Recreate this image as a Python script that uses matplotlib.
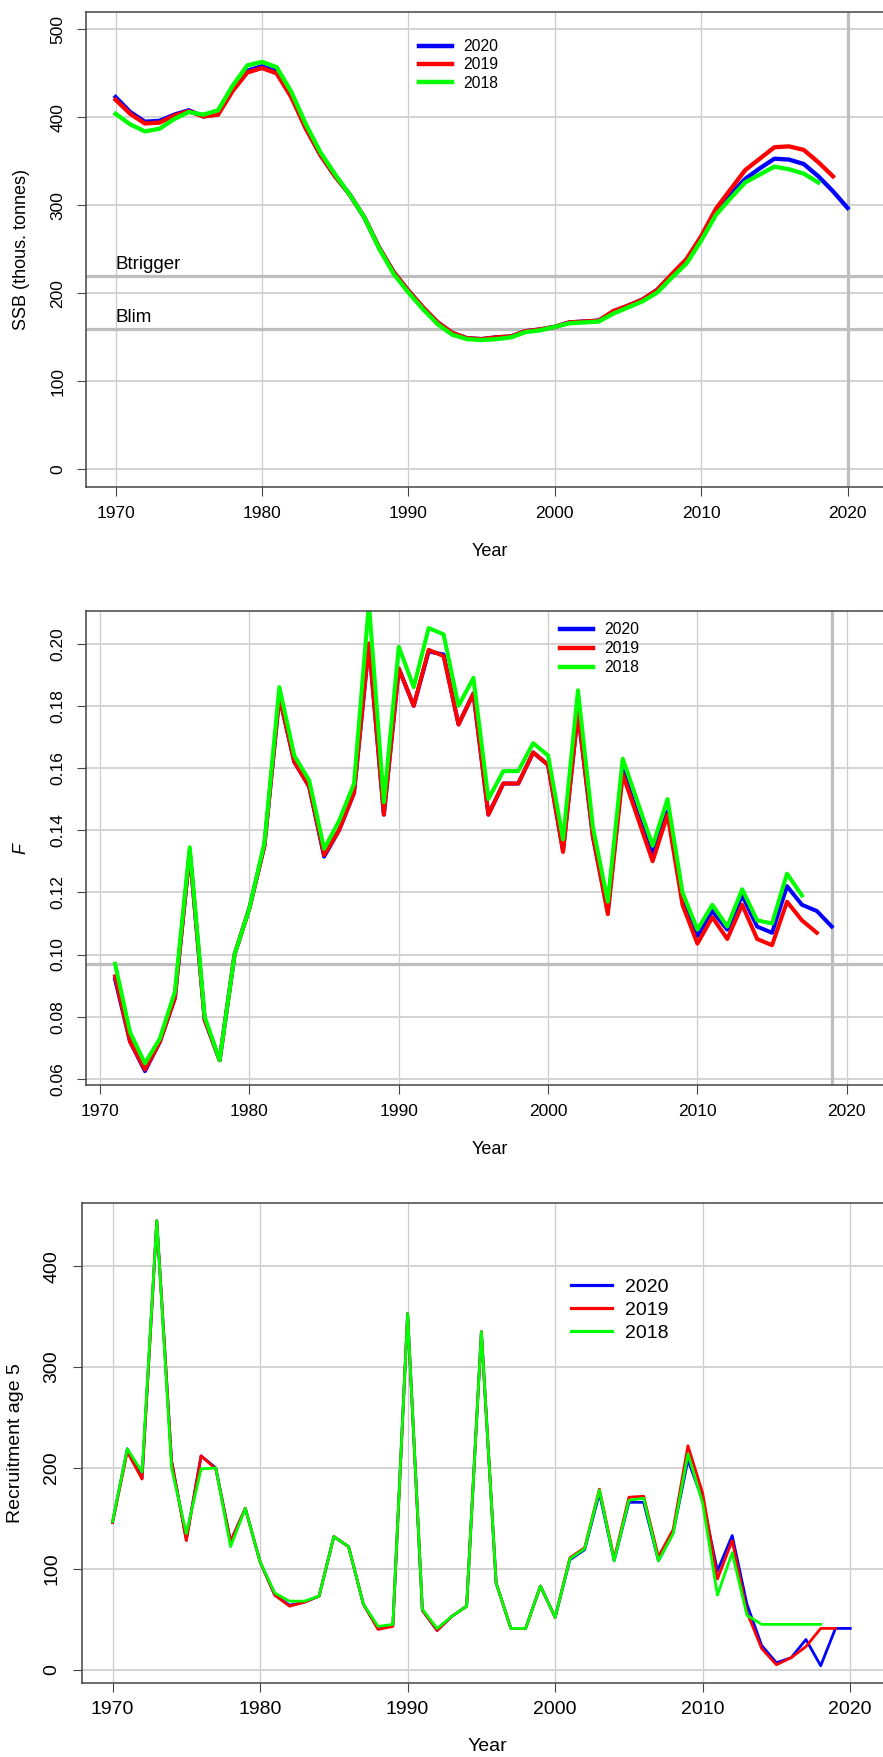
import numpy as np
import matplotlib
matplotlib.use("Agg")
import matplotlib.pyplot as plt
from matplotlib.ticker import FormatStrFormatter

plt.rcParams['font.family'] = ['Liberation Sans', 'DejaVu Sans']

# ---- SSB (thous. tonnes), by assessment year ----
ssb_years_2020 = np.arange(1970, 2021)
ssb_2020 = [423, 406, 395, 396, 403, 408, 401, 404, 432, 453,
            458, 452, 425, 388, 357, 333, 312, 286, 252, 224,
            203, 184, 167, 155, 149, 148, 150, 151, 157, 159,
            162, 167, 168, 169, 179, 186, 193, 204, 221, 238,
            264, 292, 312, 330, 342, 353, 352, 347, 333, 316,
            297]
ssb_years_2019 = np.arange(1970, 2020)
ssb_2019 = [420, 404, 393, 394, 402, 407, 401, 403, 430, 451,
            456, 450, 423, 387, 357, 333, 312, 286, 252, 224,
            203, 184, 167, 155, 149, 148, 150, 151, 157, 159,
            162, 167, 168, 169, 180, 186, 193, 204, 222, 239,
            265, 296, 318, 340, 353, 366, 367, 363, 349, 333]
ssb_years_2018 = np.arange(1970, 2019)
ssb_2018 = [404, 392, 384, 387, 398, 406, 403, 408, 436, 459,
            463, 457, 429, 392, 360, 335, 312, 286, 251, 222,
            201, 182, 165, 153, 148, 147, 148, 150, 156, 158,
            162, 166, 167, 168, 177, 184, 191, 201, 218, 234,
            260, 289, 308, 326, 335, 344, 341, 336, 326]
btrigger = 220
blim = 160

# ---- Fishing mortality ----
f_years_2020 = np.arange(1971, 2020)
f_2020 = [0.092, 0.072, 0.0625, 0.072, 0.086, 0.133, 0.079, 0.066, 0.100, 0.115,
          0.135, 0.183, 0.162, 0.154, 0.1315, 0.140, 0.152, 0.200, 0.145, 0.192,
          0.180, 0.1975, 0.1965, 0.174, 0.184, 0.145, 0.155, 0.155, 0.165, 0.161,
          0.1335, 0.178, 0.138, 0.114, 0.1595, 0.145, 0.1325, 0.146, 0.118, 0.106,
          0.114, 0.108, 0.119, 0.109, 0.107, 0.122, 0.116, 0.114, 0.109]
f_years_2019 = np.arange(1971, 2019)
f_2019 = [0.093, 0.072, 0.063, 0.072, 0.086, 0.133, 0.079, 0.066, 0.100, 0.115,
          0.135, 0.183, 0.162, 0.154, 0.132, 0.140, 0.152, 0.200, 0.145, 0.192,
          0.180, 0.198, 0.196, 0.174, 0.184, 0.145, 0.155, 0.155, 0.165, 0.161,
          0.133, 0.178, 0.138, 0.113, 0.158, 0.144, 0.130, 0.145, 0.116, 0.1035,
          0.112, 0.105, 0.116, 0.105, 0.103, 0.117, 0.111, 0.107]
f_years_2018 = np.arange(1971, 2018)
f_2018 = [0.097, 0.075, 0.065, 0.073, 0.088, 0.1345, 0.080, 0.066, 0.100, 0.115,
          0.136, 0.186, 0.164, 0.156, 0.134, 0.143, 0.155, 0.213, 0.149, 0.199,
          0.186, 0.205, 0.203, 0.180, 0.189, 0.150, 0.159, 0.159, 0.168, 0.164,
          0.137, 0.185, 0.141, 0.117, 0.163, 0.149, 0.135, 0.150, 0.120, 0.108,
          0.116, 0.109, 0.121, 0.111, 0.110, 0.126, 0.119]
f_ref = 0.097

# ---- Recruitment age 5 ----
rec_years_2020 = np.arange(1970, 2021)
rec_2020 = [146, 219, 190, 445, 207, 129, 212, 200, 127, 160,
            107, 74, 64, 67, 73, 132, 122, 65, 41, 44,
            353, 59, 39, 53, 63, 335, 86, 41, 41, 83,
            52, 109, 119, 175, 108, 166, 166, 108, 136, 208,
            168, 98, 133, 65, 24, 7, 12, 30, 4, 41,
            41]
rec_years_2019 = np.arange(1970, 2020)
rec_2019 = [146, 216, 189, 445, 207, 128, 212, 199, 127, 160,
            107, 74, 63, 67, 73, 132, 122, 65, 40, 43,
            353, 59, 39, 53, 63, 335, 86, 41, 41, 83,
            52, 111, 121, 179, 110, 171, 172, 112, 139, 222,
            175, 90, 128, 57, 21, 5, 12, 23, 41, 41]
rec_years_2018 = np.arange(1970, 2019)
rec_2018 = [147, 219, 196, 445, 200, 135, 199, 200, 122, 160,
            107, 76, 68, 68, 73, 132, 122, 65, 43, 45,
            353, 60, 41, 53, 63, 335, 86, 41, 41, 83,
            52, 110, 120, 178, 108, 168, 170, 108, 135, 214,
            165, 74, 116, 54, 45, 45, 45, 45, 45]

labels = ['2020', '2019', '2018']
colors = ['#0000FF', '#FF0000', '#00FF00']
REF = '#BEBEBE'
GRID = '#D3D3D3'

W, H = 883, 1757
fig = plt.figure(figsize=(W / 100, H / 100), dpi=100)


def add_axes(left, top, right, bottom):
    # pixel box -> figure fraction (right may go past the image edge)
    return fig.add_axes([left / W, 1 - bottom / H, (right - left) / W, (bottom - top) / H])


def style(ax, fs, ypad):
    for s in ax.spines.values():
        s.set_color('#444444')
        s.set_linewidth(1.1)
    ax.grid(True, axis='y', color=GRID, linewidth=1.4)
    ax.grid(True, axis='x', color='#CCCCCC', linewidth=0.9)
    ax.set_axisbelow(True)
    ax.tick_params(direction='out', length=6.5, width=0.8, color='#444444', labelsize=fs)
    ax.tick_params(axis='x', pad=7)
    ax.tick_params(axis='y', pad=ypad)
    ax.set_xticks(np.arange(1970, 2021, 10))
    for lab in ax.get_yticklabels():
        lab.set_rotation(90)
        lab.set_va('center')


def legend(ax, x, y, fs, lw, spacing):
    ax.legend(loc='upper left', bbox_to_anchor=(x / W, 1 - y / H),
              bbox_transform=fig.transFigure, frameon=False, fontsize=fs,
              handlelength=2.1, handletextpad=0.7, labelspacing=spacing,
              borderpad=0, borderaxespad=0)
    for h in ax.get_legend().get_lines():
        h.set_linewidth(lw)


# ---------- panel 1: SSB ----------
ax1 = add_axes(85.7, 11.7, 893, 487)
lw1 = 3.1
ax1.plot(ssb_years_2020, ssb_2020, color=colors[0], lw=lw1, label=labels[0])
ax1.plot(ssb_years_2019, ssb_2019, color=colors[1], lw=lw1, label=labels[1])
ax1.plot(ssb_years_2018, ssb_2018, color=colors[2], lw=lw1, label=labels[2])
ax1.axhline(btrigger, color=REF, lw=2.3, zorder=1.5)
ax1.axhline(blim, color=REF, lw=2.3, zorder=1.5)
ax1.axvline(2020, color=REF, lw=2.3, zorder=1.5)
ax1.text(1970, btrigger + 3, 'Btrigger', fontsize=13.5, va='bottom', ha='left')
ax1.text(1970, blim + 3, 'Blim', fontsize=13.5, va='bottom', ha='left')
ax1.set_xlim(1967.96, 2023.1)
ax1.set_ylim(-20, 520)
ax1.set_yticks(np.arange(0, 501, 100))
style(ax1, 12.5, 8)
ax1.set_xlabel('Year', fontsize=13)
ax1.xaxis.set_label_coords(0.5, -64 / 475.3)
ax1.xaxis.label.set_va('center')
ax1.set_ylabel('SSB (thous. tonnes)', fontsize=13)
ax1.yaxis.set_label_coords(-(85.7 - 22) / 807.3, 0.5)
ax1.yaxis.label.set_va('center')
legend(ax1, 419, 39, 11.3, 3.2, 0.22)

# ---------- panel 2: F ----------
ax2 = add_axes(85.7, 610.7, 893, 1085.3)
lw2 = 2.9
ax2.plot(f_years_2020, f_2020, color=colors[0], lw=lw2, label=labels[0])
ax2.plot(f_years_2019, f_2019, color=colors[1], lw=lw2, label=labels[1])
ax2.plot(f_years_2018, f_2018, color=colors[2], lw=lw2, label=labels[2])
ax2.axhline(f_ref, color=REF, lw=2.3, zorder=1.5)
ax2.axvline(2019, color=REF, lw=2.3, zorder=1.5)
ax2.set_xlim(1969.03, 2023.1)
ax2.set_ylim(0.05794, 0.2106)
ax2.set_yticks(np.arange(0.06, 0.2001, 0.02))
ax2.yaxis.set_major_formatter(FormatStrFormatter('%.2f'))
style(ax2, 12.5, 8)
ax2.set_xlabel('Year', fontsize=13)
ax2.xaxis.set_label_coords(0.5, -64 / 474.6)
ax2.xaxis.label.set_va('center')
ax2.set_ylabel('F', fontsize=13, style='italic')
ax2.yaxis.set_label_coords(-(85.7 - 21) / 807.3, 0.5)
ax2.yaxis.label.set_va('center')
legend(ax2, 560, 622.5, 11.3, 3.2, 0.25)

# ---------- panel 3: recruitment ----------
ax3 = add_axes(82, 1203.3, 893, 1682.7)
lw3 = 2.0
ax3.plot(rec_years_2020, rec_2020, color=colors[0], lw=lw3, label=labels[0])
ax3.plot(rec_years_2019, rec_2019, color=colors[1], lw=lw3, label=labels[1])
ax3.plot(rec_years_2018, rec_2018, color=colors[2], lw=lw3, label=labels[2])
ax3.set_xlim(1967.93, 2022.9)
ax3.set_ylim(-12.8, 462.3)
ax3.set_yticks(np.arange(0, 401, 100))
style(ax3, 14, 9)
ax3.set_xlabel('Year', fontsize=14)
ax3.xaxis.set_label_coords(0.5, -64 / 479.4)
ax3.xaxis.label.set_va('center')
ax3.set_ylabel('Recruitment age 5', fontsize=14)
ax3.yaxis.set_label_coords(-(82 - 16) / 811, 0.5)
ax3.yaxis.label.set_va('center')
legend(ax3, 571, 1278, 14, 2.3, 0.28)

fig.savefig('out.png', dpi=100)
